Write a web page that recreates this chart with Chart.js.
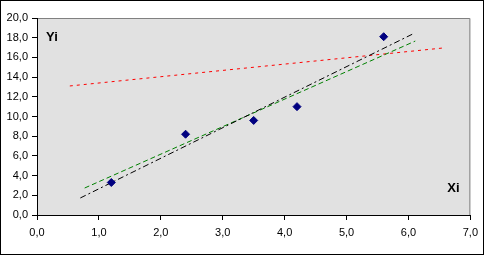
<!DOCTYPE html>
<html>
<head>
<meta charset="utf-8">
<script src="https://cdn.jsdelivr.net/npm/chart.js@4"></script>
<style>
    html, body { margin: 0; padding: 0; background: #fff; }
    #wrap { width: 484px; height: 256px; }
</style>
</head>
<body>
<div id="wrap"><canvas id="myChart" width="484" height="256"></canvas></div>
<script>
// observed points
const xi = [1.2, 2.4, 3.5, 4.2, 5.6];
const yi = [3.3, 8.2, 9.6, 11.0, 18.1];

// trend lines, endpoints
const blackX = [0.7, 6.1];
const blackY = [1.73, 18.47];
const greenX = [0.77, 6.11];
const greenY = [2.74, 17.66];
const redX = [0.53, 6.55];
const redY = [13.1, 16.95];

function toPoints(xs, ys) {
    return xs.map(function (x, i) { return { x: x, y: ys[i] }; });
}

const frame = {
    id: 'frame',
    beforeDraw: function (chart) {
        var ctx = chart.ctx;
        var a = chart.chartArea;
        ctx.save();
        ctx.fillStyle = '#e1e1e1';
        ctx.fillRect(a.left, a.top, a.right - a.left, a.bottom - a.top);
        ctx.strokeStyle = '#808080';
        ctx.lineWidth = 1;
        ctx.beginPath();
        ctx.moveTo(a.left, a.top + 0.5);
        ctx.lineTo(a.right - 0.5, a.top + 0.5);
        ctx.lineTo(a.right - 0.5, a.bottom);
        ctx.stroke();
        ctx.restore();
    },
    afterDraw: function (chart) {
        var ctx = chart.ctx;
        var a = chart.chartArea;
        ctx.save();
        ctx.strokeStyle = '#000';
        ctx.lineWidth = 1;
        ctx.strokeRect(0.5, 0.5, chart.width - 1, chart.height - 2);
        ctx.fillStyle = '#000';
        ctx.font = 'bold 13px "Liberation Sans", Arial, sans-serif';
        ctx.textBaseline = 'middle';
        ctx.fillText('Yi', a.left + 9, a.top + 19);
        ctx.fillText('Xi', a.right - 23, a.bottom - 27);
        ctx.restore();
    }
};

const tickFont = { family: '"Liberation Sans", Arial, sans-serif', size: 11 };

new Chart(document.getElementById('myChart'), {
    type: 'scatter',
    data: {
        datasets: [
            {
                data: toPoints(xi, yi),
                pointStyle: 'rectRot',
                pointRadius: 4,
                backgroundColor: '#000080',
                borderColor: '#000080',
                borderWidth: 1,
                order: 0
            },
            {
                type: 'line',
                data: toPoints(blackX, blackY),
                borderColor: '#000',
                borderWidth: 1,
                borderDash: [6, 3, 2, 3],
                pointRadius: 0,
                fill: false,
                order: 1
            },
            {
                type: 'line',
                data: toPoints(greenX, greenY),
                borderColor: '#008000',
                borderWidth: 1,
                borderDash: [5, 3],
                pointRadius: 0,
                fill: false,
                order: 2
            },
            {
                type: 'line',
                data: toPoints(redX, redY),
                borderColor: '#ff0000',
                borderWidth: 1,
                borderDash: [3, 4],
                pointRadius: 0,
                fill: false,
                order: 3
            }
        ]
    },
    options: {
        responsive: false,
        animation: false,
        layout: { padding: { top: 18, right: 13, left: 0, bottom: 0 } },
        plugins: {
            legend: { display: false },
            tooltip: { enabled: false }
        },
        scales: {
            x: {
                type: 'linear',
                min: 0,
                max: 7,
                ticks: {
                    stepSize: 1,
                    color: '#000',
                    font: tickFont,
                    padding: 6,
                    maxRotation: 0,
                    callback: function (v) { return v.toFixed(1).replace('.', ','); }
                },
                grid: { drawOnChartArea: false, drawTicks: true, tickLength: 5, color: '#000' },
                border: { display: true, color: '#000', width: 1 },
                afterFit: function (s) { s.height = 41; }
            },
            y: {
                type: 'linear',
                min: 0,
                max: 20,
                ticks: {
                    stepSize: 2,
                    color: '#000',
                    font: tickFont,
                    padding: 4,
                    callback: function (v) { return v.toFixed(1).replace('.', ','); }
                },
                grid: { drawOnChartArea: false, drawTicks: true, tickLength: 5, color: '#000' },
                border: { display: true, color: '#000', width: 1 },
                afterFit: function (s) { s.width = 37; }
            }
        }
    },
    plugins: [frame]
});
</script>
</body>
</html>
